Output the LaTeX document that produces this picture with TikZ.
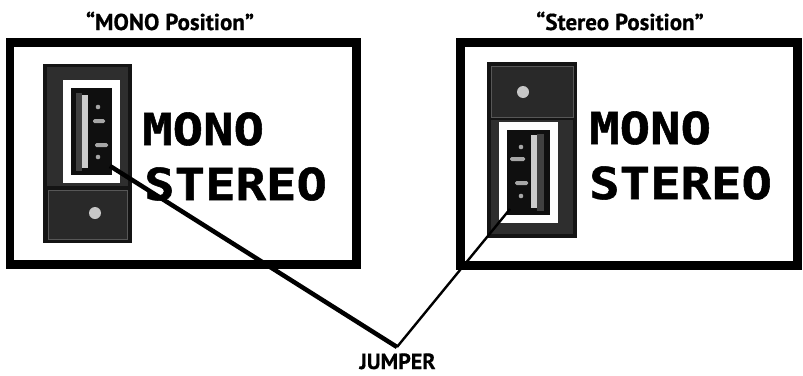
\documentclass[tikz,border=0pt]{standalone}
\usepackage{fontspec}
\setmainfont{PT Sans}
\newfontfamily\titlefont[FakeBold=0.6]{PT Sans Bold}
\newfontfamily\lcdfont[FakeStretch=1.15,FakeBold=1.2]{DejaVu Sans Mono Bold}
\begin{document}
\begin{tikzpicture}[x=1pt,y=-1pt,
  frame/.style={draw=black, line width=8.5pt},
  panel/.style={fill=black!92},
  subbox/.style={fill=black!84, draw=black!66, line width=1pt},
  whitebox/.style={draw=white, line width=8pt},
  socket/.style={fill=black!94},
  shade/.style={fill=black!75},
  barstyle/.style={fill=black!20},
  pin/.style={fill=black!35},
  knob/.style={fill=black!22},
  title/.style={font=\titlefont\fontsize{23}{23}\selectfont, inner sep=0pt, anchor=base},
  lcd/.style={font=\lcdfont\fontsize{44}{44}\selectfont, inner sep=0pt, anchor=base west},
  leadthick/.style={draw=black, line width=4.5pt},
  leadthin/.style={draw=black, line width=2.4pt}]
\useasboundingbox (0,0) rectangle (803,375);
\fill[white] (0,0) rectangle (803,375);

% ---------- left panel (MONO position) ----------
\draw[frame] (10,42.5) rectangle (356.5,264.5);
\fill[panel] (43,64) rectangle (132,243);
\fill[black!82] (47,67) rectangle (128,186);
\draw[subbox] (48,190) rectangle (127,239);
\fill[knob] (95,213) circle (6);
\draw[whitebox] (67,84) rectangle (116,179);
\fill[socket] (71,88) rectangle (112,175);
\fill[shade] (76,93) rectangle (82,171);
\fill[barstyle] (82,95) rectangle (88,168);
\fill[pin] (98,107) circle (2.3);
\fill[pin, rounded corners=1.5pt] (93,119) rectangle (105,123);
\fill[pin, rounded corners=1.5pt] (95,143) rectangle (108,147);
\fill[pin] (98,157) circle (2.3);
\node[lcd] (mono1) at (142,145) {MONO};
\node[lcd] (stereo1) at (144,200) {STEREO};
\node[title] (t1) at (170,30) {“MONO Position”};

% ---------- right panel (Stereo position) ----------
\draw[frame] (460.5,42.5) rectangle (797.5,265.5);
\fill[panel] (487,62) rectangle (577,238);
\fill[black!82] (491,120) rectangle (573,234);
\draw[subbox] (491,66) rectangle (573,117);
\fill[knob] (523,92) circle (6);
\draw[whitebox] (503,126) rectangle (554,219);
\fill[socket] (507,130) rectangle (550,215);
\fill[shade] (537,134) rectangle (544,211);
\fill[barstyle] (531,135) rectangle (537,208);
\fill[pin] (521,147) circle (2.3);
\fill[pin, rounded corners=1.5pt] (510,157) rectangle (525,161);
\fill[pin, rounded corners=1.5pt] (515,181) rectangle (528,185);
\fill[pin] (521,196) circle (2.3);
\node[lcd] (mono2) at (589,144) {MONO};
\node[lcd] (stereo2) at (589,199) {STEREO};
\node[title] (t2) at (620,30) {“Stereo Position”};

% ---------- jumper leaders ----------
\node[title, font=\titlefont\fontsize{22}{22}\selectfont] (jumper) at (397.5,369) {JUMPER};
\coordinate (apex) at (397,347);
\coordinate (jl) at (110,166);
\coordinate (jr) at (510,209);
\draw[leadthick] (jl) -- (apex);
\draw[leadthin] (jr) -- (apex);
\end{tikzpicture}
\end{document}
